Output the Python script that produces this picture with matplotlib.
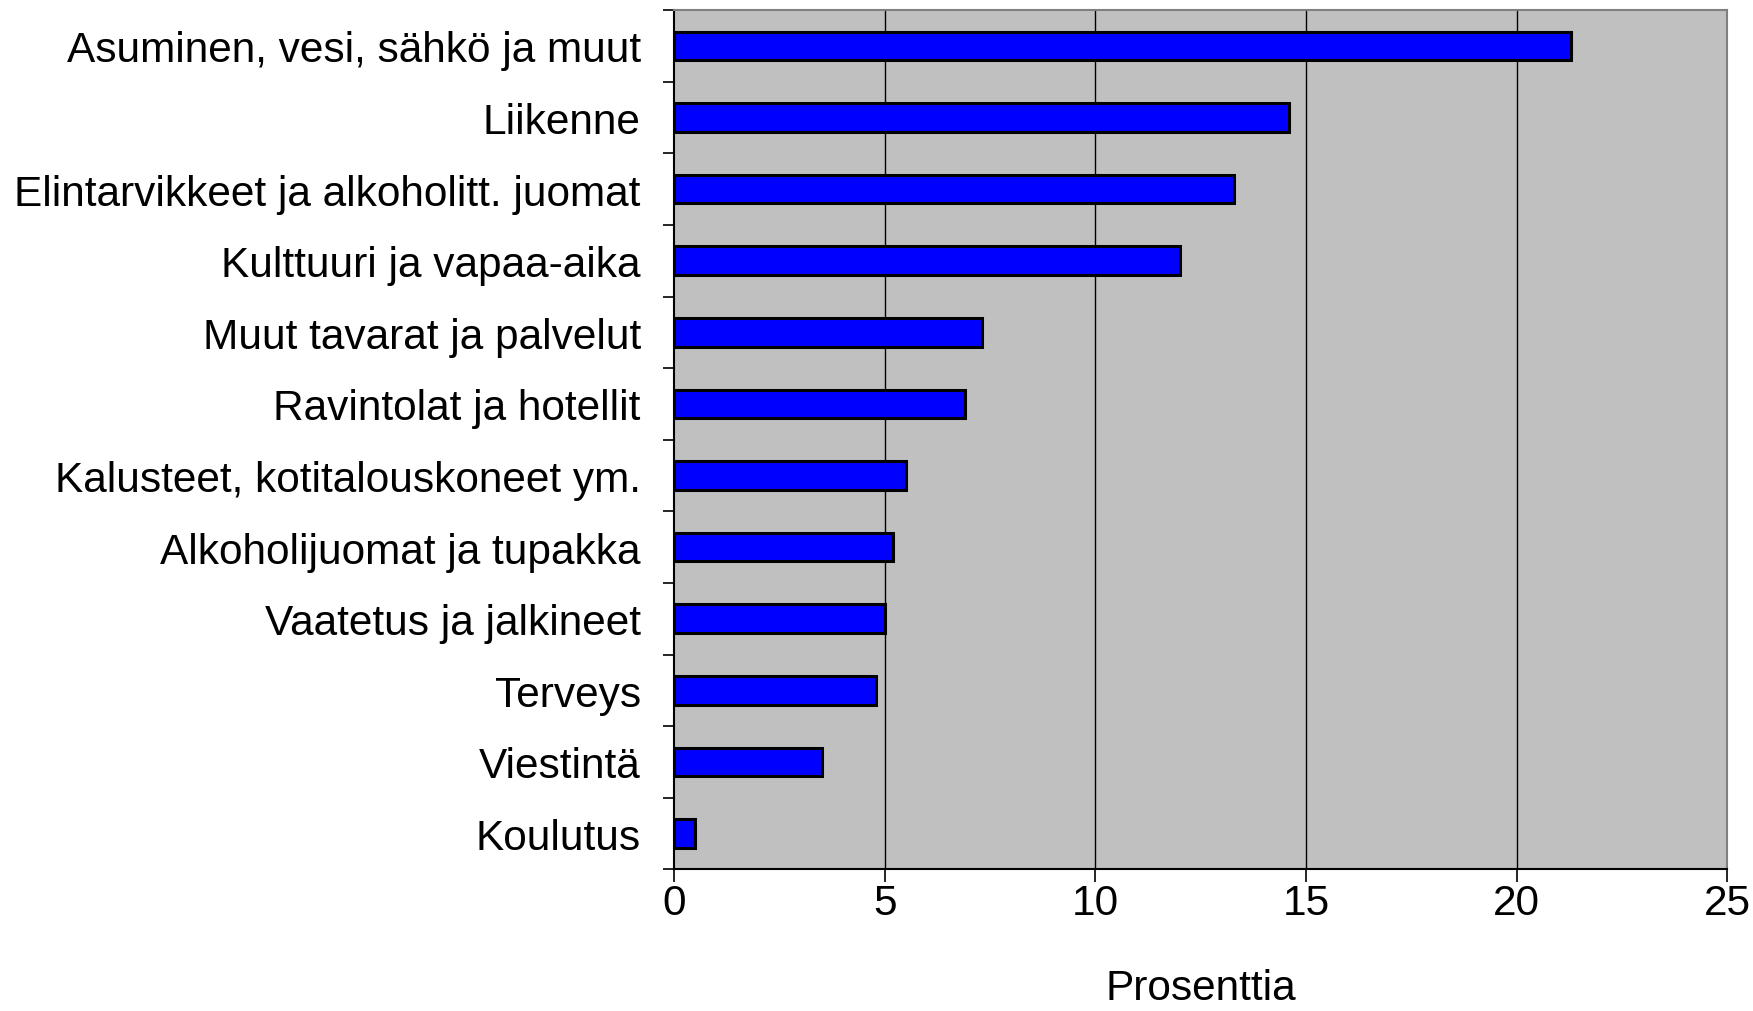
import matplotlib
matplotlib.use("Agg")
import matplotlib.pyplot as plt
import numpy as np

categories = [
    "Asuminen, vesi, sähkö ja muut",
    "Liikenne",
    "Elintarvikkeet ja alkoholitt. juomat",
    "Kulttuuri ja vapaa-aika",
    "Muut tavarat ja palvelut",
    "Ravintolat ja hotellit",
    "Kalusteet, kotitalouskoneet ym.",
    "Alkoholijuomat ja tupakka",
    "Vaatetus ja jalkineet",
    "Terveys",
    "Viestintä",
    "Koulutus",
]
values = [21.3, 14.6, 13.3, 12.0, 7.3, 6.9, 5.5, 5.2, 5.0, 4.8, 3.5, 0.5]
xticks = [0, 5, 10, 15, 20, 25]
xlabel = "Prosenttia"

plt.rcParams['font.family'] = ['Liberation Sans', 'DejaVu Sans']
FS = 30.5

fig = plt.figure(figsize=(17.53, 10.12), dpi=100)
ax = fig.add_axes([0.3846, 0.140, 0.9853 - 0.3846, 0.989 - 0.140])
ax.set_facecolor('#c0c0c0')

y = np.arange(len(categories))
ax.barh(y, values, height=0.4, color='#0000ff', edgecolor='black', linewidth=2.2, zorder=3)

ax.set_xlim(0, 25)
ax.set_ylim(len(categories) - 0.5, -0.5)
ax.set_xticks(xticks)
ax.set_xticklabels([str(t) for t in xticks])
ax.set_yticks(y)
ax.set_yticklabels(categories)
ax.set_yticks(np.arange(-0.5, len(categories) + 0.5, 1), minor=True)

ax.tick_params(axis='y', which='major', length=0, pad=24, labelsize=FS)
ax.tick_params(axis='y', which='minor', length=8, width=1.2, color='black', direction='out')
ax.tick_params(axis='x', which='major', length=9, width=1.2, pad=1, labelsize=FS)

for xv in xticks[1:-1]:
    ax.axvline(xv, color='black', linewidth=1, zorder=1)

for s in ['left', 'bottom']:
    ax.spines[s].set_color('black')
    ax.spines[s].set_linewidth(1.5)
for s in ['top', 'right']:
    ax.spines[s].set_color('#808080')
    ax.spines[s].set_linewidth(1.5)

ax.set_xlabel(xlabel, fontsize=FS, labelpad=32)

fig.savefig('out.png', dpi=100, facecolor='white')
